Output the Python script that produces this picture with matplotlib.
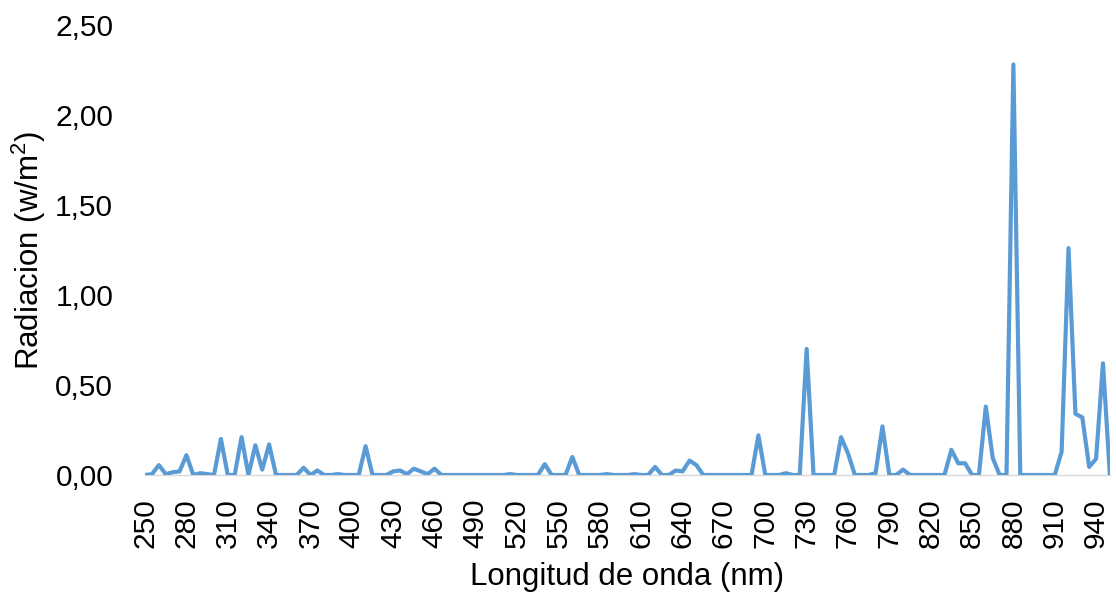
import numpy as np
import matplotlib
matplotlib.use("Agg")
import matplotlib.pyplot as plt

plt.rcParams['font.family'] = ['Liberation Sans', 'DejaVu Sans']
plt.rcParams['mathtext.fontset'] = 'custom'
plt.rcParams['mathtext.rm'] = 'Liberation Sans'
plt.rcParams['mathtext.it'] = 'Liberation Sans'

# longitud de onda, cada 5 nm de 250 a 950
wavelength = np.arange(250, 955, 5)

# radiacion (w/m2)
radiation = [
    0.00, 0.005, 0.055, 0.005, 0.015, 0.02, 0.11, 0.00, 0.01, 0.005,   # 250-295
    0.00, 0.20, 0.00, 0.00, 0.21, 0.00, 0.165, 0.03, 0.17, 0.00,        # 300-345
    0.00, 0.00, 0.00, 0.04, 0.00, 0.025, 0.00, 0.00, 0.005, 0.00,       # 350-395
    0.00, 0.00, 0.16, 0.00, 0.00, 0.00, 0.02, 0.025, 0.005, 0.035,      # 400-445
    0.02, 0.005, 0.035, 0.00, 0.00, 0.00, 0.00, 0.00, 0.00, 0.00,       # 450-495
    0.00, 0.00, 0.00, 0.005, 0.00, 0.00, 0.00, 0.00, 0.06, 0.00,        # 500-545
    0.00, 0.00, 0.10, 0.00, 0.00, 0.00, 0.00, 0.005, 0.00, 0.00,        # 550-595
    0.00, 0.005, 0.00, 0.00, 0.045, 0.00, 0.00, 0.025, 0.02, 0.08,      # 600-645
    0.055, 0.00, 0.00, 0.00, 0.00, 0.00, 0.00, 0.00, 0.00, 0.22,        # 650-695
    0.00, 0.00, 0.00, 0.01, 0.00, 0.00, 0.70, 0.00, 0.00, 0.00,         # 700-745
    0.00, 0.21, 0.12, 0.00, 0.00, 0.00, 0.01, 0.27, 0.00, 0.00,         # 750-795
    0.03, 0.00, 0.00, 0.00, 0.00, 0.00, 0.00, 0.14, 0.065, 0.065,       # 800-845
    0.00, 0.00, 0.38, 0.095, 0.00, 0.00, 2.28, 0.00, 0.00, 0.00,        # 850-895
    0.00, 0.00, 0.00, 0.13, 1.26, 0.34, 0.32, 0.045, 0.09, 0.62,        # 900-945
    0.00,                                                               # 950
]

x_ticks = list(range(250, 941, 30))
y_ticks = [0.0, 0.5, 1.0, 1.5, 2.0, 2.5]
y_tick_labels = ['0,00', '0,50', '1,00', '1,50', '2,00', '2,50']

fig = plt.figure(figsize=(11.16, 5.93), dpi=100)
ax = fig.add_axes([0.130, 0.199, 0.8645, 0.759])

ax.plot(wavelength, radiation, color='#5B9BD5', linewidth=3.0,
        solid_joinstyle='round', zorder=3)

ax.set_xlim(250, 950)
ax.set_ylim(0, 2.5)

ax.set_xticks(x_ticks)
ax.set_xticklabels([str(t) for t in x_ticks], rotation=90, fontsize=21.5)
ax.set_yticks(y_ticks)
ax.set_yticklabels(y_tick_labels, fontsize=21.5)

ax.tick_params(axis='both', length=0, colors='#000000')
ax.tick_params(axis='y', pad=23)
ax.tick_params(axis='x', pad=17)

for s in ['top', 'right', 'left']:
    ax.spines[s].set_visible(False)
ax.spines['bottom'].set_color('#D9D9D9')
ax.spines['bottom'].set_linewidth(1.0)

ax.set_xlabel('Longitud de onda (nm)', fontsize=22.5, labelpad=10)
ax.set_ylabel('Radiacion (w/m$^2$)', fontsize=22.5, labelpad=5)

fig.savefig('out.png', dpi=100)
